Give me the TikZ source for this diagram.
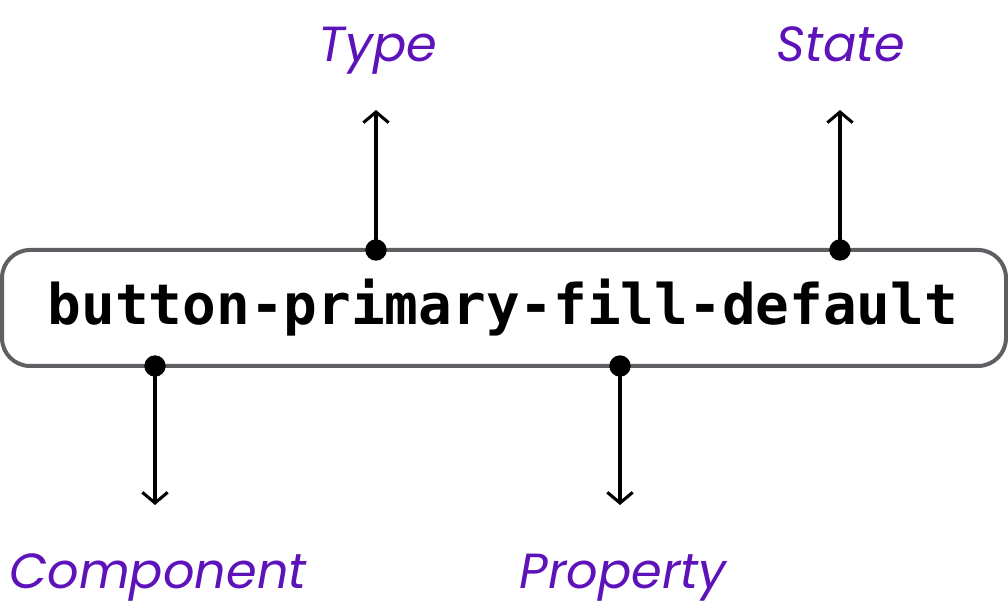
\documentclass[tikz,border=0pt]{standalone}
\usepackage{fontspec}
\setmainfont{Poppins}
\setmonofont{DejaVu Sans Mono}
\usetikzlibrary{arrows.meta}
\definecolor{tagpurple}{HTML}{5E12BA}
\definecolor{boxgray}{HTML}{5F5F63}
\tikzset{
  tokenbox/.style={draw=boxgray, line width=3pt, rounded corners=21pt, fill=white},
  tokentext/.style={font=\fontsize{42pt}{48pt}\selectfont\ttfamily\bfseries, inner sep=0pt},
  partlabel/.style={font=\fontsize{37pt}{44pt}\selectfont\itshape, text=tagpurple, anchor=base, inner sep=0pt},
  pin/.style={fill=black, circle, inner sep=0pt, minimum size=16pt},
  pointer/.style={-{Straight Barb[length=8pt,width=19pt]}, line width=2.3pt}
}

\begin{document}
\begin{tikzpicture}[x=0.75pt, y=-0.75pt]
  \useasboundingbox (0,0) rectangle (1008,616);
  % the token
  \draw[tokenbox] (2,250) rectangle (1006,366);
  \node[tokentext] (token) at (503,308) {button-primary-fill-default};

  % pins on the box edge
  \node[pin] (ptype) at (376,250) {};
  \node[pin] (pstate) at (840,250) {};
  \node[pin] (pcomp) at (155,366) {};
  \node[pin] (pprop) at (620,366) {};

  % arrow ends
  \coordinate (etype) at (376,110);
  \coordinate (estate) at (840,110);
  \coordinate (ecomp) at (155,505);
  \coordinate (eprop) at (620,505);

  \draw[pointer] (ptype.center) -- (etype);
  \draw[pointer] (pstate.center) -- (estate);
  \draw[pointer] (pcomp.center) -- (ecomp);
  \draw[pointer] (pprop.center) -- (eprop);

  % labels
  \node[partlabel] (ltype) at (378,62) {Type};
  \node[partlabel] (lstate) at (841,62) {State};
  \node[partlabel] (lcomp) at (158,589) {Component};
  \node[partlabel] (lprop) at (623,589) {Property};
\end{tikzpicture}
\end{document}
